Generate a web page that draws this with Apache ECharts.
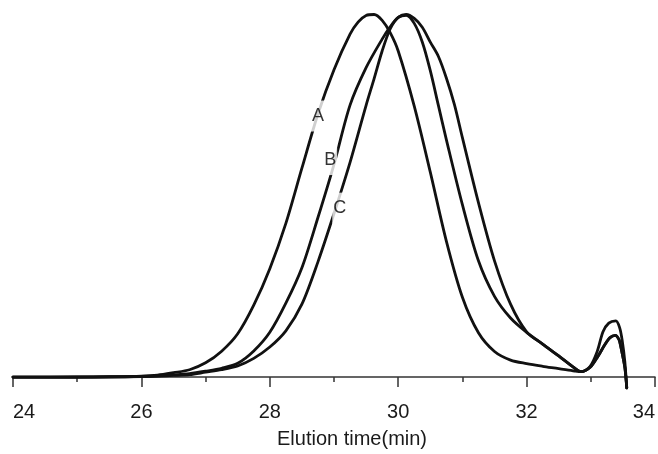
<!DOCTYPE html>
<html>
<head>
<meta charset="utf-8">
<script src="https://cdn.jsdelivr.net/npm/echarts@6/dist/echarts.min.js"></script>
<style>
html,body{margin:0;padding:0;background:#fff;}
#chart{width:658px;height:454px;}
</style>
</head>
<body>
<div id="chart"></div>
<script>
// Elution time (min) vs normalised detector response
var curveA = [
  [24.00,0],[25.00,0.0003],[25.50,0.0011],[26.00,0.0027],[26.25,0.0054],[26.50,0.0122],
  [26.75,0.0204],[27.00,0.0394],[27.25,0.0715],[27.50,0.1196],[27.75,0.1984],[28.00,0.2989],
  [28.25,0.4239],[28.50,0.5761],[28.75,0.7255],[29.00,0.8478],[29.25,0.9457],[29.375,0.979],
  [29.50,0.9973],[29.625,1.000],[29.75,0.9837],[29.875,0.950],[30.00,0.8995],[30.25,0.7473],
  [30.50,0.5652],[30.75,0.375],[31.00,0.2201],[31.25,0.1223],[31.50,0.0707],[31.75,0.047],
  [32.00,0.0372],[32.25,0.0299],[32.50,0.0236],[32.75,0.0168],[32.85,0.0149],
  [32.99,0.030],[33.10,0.071],[33.19,0.125],[33.28,0.149],[33.39,0.155],[33.45,0.136],
  [33.49,0.100],[33.53,0.043],[33.56,-0.030]
];
var curveB = [
  [24.00,0],[25.00,0],[25.50,0.0005],[26.00,0.0019],[26.25,0.0035],[26.50,0.0060],
  [26.75,0.0095],[27.00,0.0163],[27.25,0.0245],[27.50,0.0380],[27.75,0.0720],[28.00,0.1236],
  [28.25,0.2038],[28.50,0.3016],[28.75,0.4402],[29.00,0.5870],[29.25,0.7500],[29.50,0.8533],
  [29.75,0.9321],[29.875,0.966],[30.00,0.9918],[30.125,1.000],[30.25,0.9891],[30.375,0.965],
  [30.50,0.924],[30.625,0.885],[30.75,0.825],[30.875,0.752],[31.00,0.6603],[31.25,0.4810],
  [31.50,0.3207],[31.75,0.2011],[32.00,0.125],[32.25,0.091],[32.50,0.0584],[32.75,0.0245],
  [32.85,0.0149],
  [32.99,0.027],[33.11,0.057],[33.22,0.090],[33.30,0.109],[33.38,0.115],[33.44,0.103],
  [33.47,0.0815],[33.53,0.027],[33.56,-0.030]
];
var curveC = [
  [24.00,0],[25.50,0.0003],[26.00,0.0014],[26.25,0.0027],[26.50,0.0046],[26.75,0.0068],
  [27.00,0.0136],[27.25,0.0204],[27.50,0.0307],[27.75,0.0516],[28.00,0.0829],[28.25,0.1277],
  [28.50,0.2011],[28.75,0.3179],[29.00,0.4511],[29.25,0.5924],[29.50,0.7497],[29.625,0.8234],
  [29.75,0.8995],[29.875,0.960],[30.00,0.9918],[30.125,0.998],[30.25,0.9755],[30.375,0.924],
  [30.50,0.845],[30.625,0.750],[30.75,0.655],[31.00,0.4755],[31.25,0.3207],[31.50,0.2228],
  [31.75,0.1630],[32.00,0.1236],[32.25,0.091],[32.50,0.0584],[32.75,0.0245],[32.85,0.0149],
  [32.99,0.027],[33.11,0.057],[33.22,0.090],[33.30,0.109],[33.38,0.115],[33.44,0.103],
  [33.47,0.0815],[33.53,0.027],[33.56,-0.030]
];
var curveNames = ['A','B','C'];
var curveLabels = [[28.75,0.720],[28.94,0.600],[29.09,0.466]];
var xMin = 24, xMax = 34, xStep = 2;
var axisTitle = 'Elution time(min)';

var chart = echarts.init(document.getElementById('chart'), null, {renderer:'canvas'});
var font = "'Liberation Sans', Arial, sans-serif";
function lineSeries(data){
  return {
    type:'line', data:data, smooth:0.3, showSymbol:false, symbol:'none',
    lineStyle:{color:'#111', width:2.8, join:'round', cap:'round'}, z:2, silent:true, animation:false
  };
}
var option = {
  animation:false,
  backgroundColor:'#fff',
  grid:{left:13, right:3, top:0, bottom:60},
  xAxis:{
    type:'value', min:xMin, max:xMax, interval:xStep,
    axisLine:{show:true, lineStyle:{color:'#333', width:1.5}},
    axisTick:{show:true, length:10, lineStyle:{color:'#333', width:1.5}},
    minorTick:{show:true, splitNumber:2, length:5, lineStyle:{color:'#333', width:1.5}},
    splitLine:{show:false},
    axisLabel:{color:'#1a1a1a', fontSize:20, fontFamily:font, margin:14,
      alignMinLabel:'left', alignMaxLabel:'right'},
    name:axisTitle, nameLocation:'middle', nameGap:41,
    nameTextStyle:{color:'#1a1a1a', fontSize:20, fontFamily:font, padding:[0,0,0,36]}
  },
  yAxis:{type:'value', show:false, min:-0.03, max:1.04},
  series:[
    lineSeries(curveA), lineSeries(curveB), lineSeries(curveC),
    {
      type:'scatter', symbolSize:0, z:5, silent:true,
      data:curveLabels.map(function(p,i){return {value:p, name:curveNames[i]};}),
      label:{show:true, position:'inside', formatter:'{b}', color:'#000', fontSize:18,
        fontFamily:font, backgroundColor:'#fff', padding:[7,1,6,1]}
    }
  ]
};
chart.setOption(option);
</script>
</body>
</html>
